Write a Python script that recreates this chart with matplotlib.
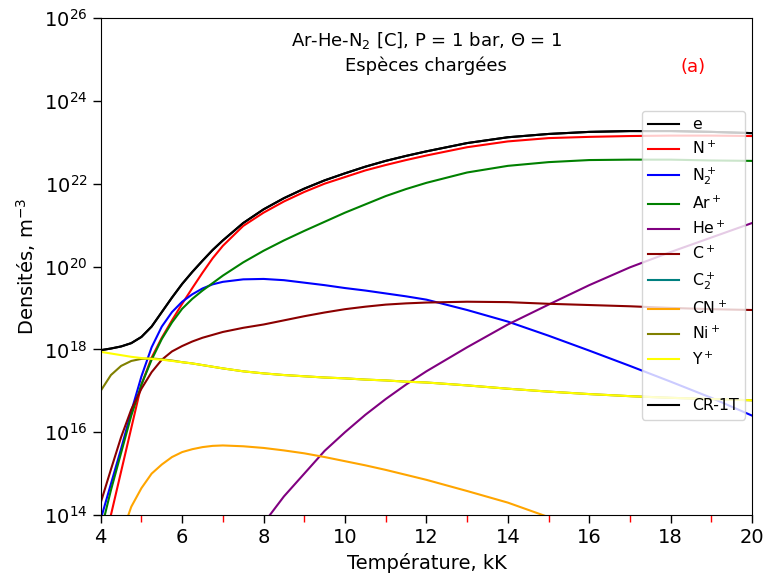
import matplotlib
matplotlib.use("Agg")
import matplotlib.pyplot as plt
from matplotlib.lines import Line2D
import numpy as np

nan = np.nan

# temperature grid, kK
T = [4.0, 4.25, 4.5, 4.75, 5.0, 5.25, 5.5, 5.75, 6.0, 6.25, 6.5, 6.75, 7.0, 7.5, 8.0, 8.5, 9.0,
     9.5, 10, 10.5, 11, 11.5, 12, 13, 14, 15, 16, 17, 18, 19, 20]

# log10 of densities (m^-3)
e_log = [17.98, 18.02, 18.07, 18.15, 18.3, 18.55, 18.9, 19.25, 19.58, 19.87, 20.14, 20.4, 20.63, 21.05, 21.38, 21.65, 21.88,
         22.08, 22.25, 22.41, 22.55, 22.67, 22.78, 22.98, 23.12, 23.2, 23.25, 23.27, 23.27, 23.25, 23.22]
np_log = [12.5, 14.0, 15.05, 16.1, 17.15, 17.8, 18.28, 18.7, 19.1, 19.48, 19.85, 20.2, 20.5, 20.98, 21.3, 21.57, 21.8,
          22.0, 22.16, 22.32, 22.45, 22.57, 22.68, 22.88, 23.02, 23.1, 23.13, 23.15, 23.16, 23.16, 23.15]
n2p_log = [13.9, 14.75, 15.6, 16.5, 17.35, 18.05, 18.55, 18.9, 19.15, 19.33, 19.47, 19.57, 19.63, 19.69, 19.7, 19.67, 19.61,
           19.55, 19.48, 19.42, 19.35, 19.28, 19.2, 18.95, 18.67, 18.33, 17.97, 17.6, 17.22, 16.83, 16.4]
arp_log = [13.6, 14.6, 15.5, 16.4, 17.15, 17.75, 18.25, 18.65, 18.98, 19.22, 19.42, 19.6, 19.78, 20.1, 20.38, 20.63, 20.86,
           21.08, 21.3, 21.5, 21.7, 21.87, 22.02, 22.27, 22.43, 22.52, 22.57, 22.58, 22.58, 22.56, 22.55]
hep_log = [nan, nan, nan, nan, nan, nan, nan, nan, nan, nan, nan, nan, nan, 13.1, 13.8, 14.45, 15.0,
           15.55, 16.0, 16.42, 16.8, 17.15, 17.47, 18.05, 18.6, 19.08, 19.55, 19.98, 20.35, 20.7, 21.05]
cp_log = [14.3, 15.1, 15.88, 16.55, 17.05, 17.45, 17.75, 17.95, 18.08, 18.19, 18.28, 18.35, 18.42, 18.52, 18.6, 18.7, 18.8,
          18.89, 18.97, 19.03, 19.08, 19.11, 19.13, 19.15, 19.14, 19.1, 19.07, 19.04, 19.0, 18.97, 18.95]
c2p_log = [11.0, 11.4, 11.7, 12.0, 12.2, 12.4, 12.5, 12.6, 12.7, 12.75, 12.8, 12.82, 12.85, 12.85, 12.8, 12.7, 12.6,
           12.5, 12.4, 12.25, 12.1, 11.95, 11.8, 11.5, 11.2, 10.9, 10.6, 10.3, 10.0, 9.7, 9.4]
cnp_log = [11.0, 12.5, 13.5, 14.2, 14.65, 15.0, 15.22, 15.4, 15.52, 15.59, 15.64, 15.67, 15.68, 15.66, 15.62, 15.56, 15.49,
           15.4, 15.3, 15.2, 15.09, 14.97, 14.85, 14.58, 14.3, 13.95, 13.6, 13.2, 12.8, 12.4, 12.0]
nip_log = [17.0, 17.38, 17.6, 17.72, 17.77, 17.78, 17.76, 17.73, 17.69, 17.66, 17.62, 17.58, 17.54, 17.47, 17.42, 17.38, 17.35,
           17.32, 17.3, 17.27, 17.25, 17.22, 17.2, 17.13, 17.05, 16.98, 16.92, 16.87, 16.83, 16.8, 16.77]
yp_log = [17.94, 17.9, 17.86, 17.82, 17.79, 17.77, 17.75, 17.72, 17.69, 17.66, 17.62, 17.58, 17.54, 17.47, 17.42, 17.38, 17.35,
          17.32, 17.3, 17.27, 17.25, 17.22, 17.2, 17.13, 17.05, 16.98, 16.92, 16.87, 16.83, 16.8, 16.77]
cr1t_log = [17.98, 18.02, 18.07, 18.15, 18.3, 18.55, 18.9, 19.25, 19.58, 19.87, 20.14, 20.4, 20.63, 21.05, 21.38, 21.65, 21.88,
            22.08, 22.25, 22.41, 22.55, 22.67, 22.78, 22.98, 23.12, 23.2, 23.25, 23.27, 23.27, 23.25, 23.22]

series = [
    (e_log, "black", "e"),
    (np_log, "red", r"N$^+$"),
    (n2p_log, "blue", r"N$_2^+$"),
    (arp_log, "green", r"Ar$^+$"),
    (hep_log, "purple", r"He$^+$"),
    (cp_log, "darkred", r"C$^+$"),
    (c2p_log, "teal", r"C$_2^+$"),
    (cnp_log, "orange", r"CN$^+$"),
    (nip_log, "olive", r"Ni$^+$"),
    (yp_log, "yellow", r"Y$^+$"),
]


def main():
    fig = plt.figure(figsize=(7.69, 5.80), dpi=100)
    ax = fig.add_axes([0.131, 0.112, 0.847, 0.857])

    handles = []
    for vals, col, lab in series:
        ln, = ax.plot(T, 10.0 ** np.array(vals), color=col, lw=1.5, label=lab)
        handles.append(ln)
    # empty slot in the legend
    handles.append(Line2D([], [], linestyle="none", label=" "))
    ln, = ax.plot(T, 10.0 ** np.array(cr1t_log), color="black", lw=1.5, label="CR-1T")
    handles.append(ln)

    ax.set_yscale("log")
    ax.set_xlim(4, 20)
    ax.set_ylim(1e14, 1e26)
    ax.set_yticks([10.0 ** k for k in range(14, 27, 2)])
    ax.yaxis.set_minor_locator(matplotlib.ticker.NullLocator())
    ax.set_xticks(range(4, 21, 2))
    ax.set_xticks(range(5, 20, 2), minor=True)
    ax.tick_params(axis="x", which="minor", colors="red", length=5, width=1)
    ax.tick_params(axis="both", which="major", labelsize=14, length=6, width=1)

    ax.set_xlabel("Température, kK", fontsize=14)
    ax.set_ylabel(r"Densités, m$^{-3}$", fontsize=14)

    ax.text(0.5, 0.954, r"Ar-He-N$_2$ [C], P = 1 bar, $\Theta$ = 1", transform=ax.transAxes,
            ha="center", va="center", fontsize=13)
    ax.text(0.5, 0.903, "Espèces chargées", transform=ax.transAxes,
            ha="center", va="center", fontsize=13)
    ax.text(0.909, 0.901, "(a)", transform=ax.transAxes, color="red",
            ha="center", va="center", fontsize=13)

    ax.legend(handles=handles, loc="upper right", bbox_to_anchor=(0.989, 0.813),
              fontsize=11.3, borderaxespad=0.0)

    fig.savefig("out.png", dpi=100)
    plt.close(fig)


if __name__ == "__main__":
    main()
